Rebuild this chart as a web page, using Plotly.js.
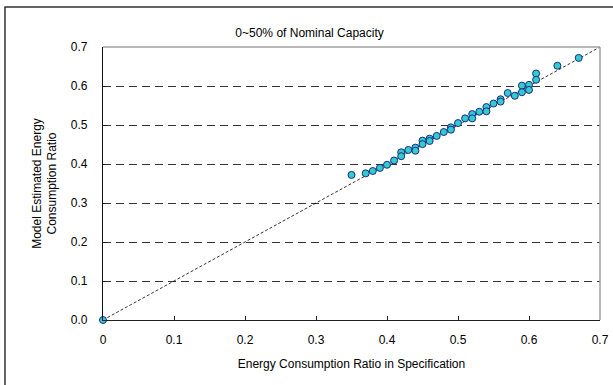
<!DOCTYPE html>
<html>
<head>
<meta charset="utf-8">
<script src="https://cdn.plot.ly/plotly-3.0.1.min.js"></script>
<style>html,body{margin:0;padding:0;background:#fff;}#chart{width:613px;height:385px;}</style>
</head>
<body>
<div id="chart"></div>
<script>
// Energy Consumption Ratio in Specification (x) vs Model Estimated (y)
const specRatio = [0, 0.35, 0.37, 0.38, 0.39, 0.40, 0.41, 0.42, 0.42, 0.43, 0.44, 0.44, 0.45, 0.45, 0.46, 0.46, 0.47, 0.48, 0.49, 0.49, 0.50, 0.51, 0.52, 0.52, 0.53, 0.54, 0.54, 0.55, 0.56, 0.56, 0.57, 0.58, 0.59, 0.59, 0.60, 0.60, 0.61, 0.61, 0.64, 0.67];
const modelRatio = [0, 0.372, 0.376, 0.382, 0.390, 0.398, 0.409, 0.430, 0.420, 0.436, 0.442, 0.434, 0.460, 0.451, 0.465, 0.459, 0.472, 0.482, 0.494, 0.488, 0.505, 0.517, 0.528, 0.517, 0.534, 0.546, 0.535, 0.555, 0.566, 0.560, 0.582, 0.575, 0.601, 0.584, 0.603, 0.590, 0.632, 0.616, 0.652, 0.672];
const refLineX = [0, 0.7];
const refLineY = [0, 0.7];
const xTicks = [0, 0.1, 0.2, 0.3, 0.4, 0.5, 0.6, 0.7];
const yTicks = [0, 0.1, 0.2, 0.3, 0.4, 0.5, 0.6, 0.7];

const font = {family: 'Liberation Sans, Arial, sans-serif', size: 12, color: '#000'};

const traces = [
  {x: refLineX, y: refLineY, mode: 'lines', type: 'scatter',
   line: {color: '#000', width: 0.8, dash: '3px,2px'}, hoverinfo: 'skip', cliponaxis: false},
  {x: specRatio, y: modelRatio, mode: 'markers', type: 'scatter', cliponaxis: false,
   marker: {size: 7, color: '#33cccc', line: {color: '#1a2a8a', width: 1}}}
];

const layout = {
  width: 613, height: 385,
  margin: {l: 103, r: 13, t: 47, b: 65},
  paper_bgcolor: '#fff', plot_bgcolor: '#fff',
  showlegend: false,
  font: font,
  title: {text: '0~50% of Nominal Capacity', font: font, xref: 'container', yref: 'container', x: 0.505, y: 0.914, xanchor: 'center', yanchor: 'middle'},
  xaxis: {
    range: [0, 0.7], tickvals: xTicks, ticktext: xTicks.map(v => v === 0 ? '0' : v.toFixed(1)),
    ticks: 'inside', ticklen: 4, tickcolor: '#222', showgrid: false, zeroline: false,
    showline: true, linecolor: '#222', linewidth: 1.2, ticklabelstandoff: 8,
    title: {text: 'Energy Consumption Ratio in Specification', font: font, standoff: 14}
  },
  yaxis: {
    range: [0, 0.7], tickvals: yTicks, ticktext: yTicks.map(v => v.toFixed(1)),
    ticks: 'inside', ticklen: 4, tickcolor: '#222', showgrid: true, gridcolor: '#333', gridwidth: 1,
    griddash: '8px,5px', zeroline: false,
    showline: true, linecolor: '#111', linewidth: 1.2, ticklabelstandoff: 12,
    title: {text: 'Model Estimated Energy<br>Consumption Ratio', font: font, standoff: 11}
  },
  shapes: [
    {type: 'line', xref: 'paper', yref: 'paper', x0: 0, x1: 1, y0: 1, y1: 1, line: {color: '#a0a0a0', width: 1.5}},
    {type: 'line', xref: 'paper', yref: 'paper', x0: 1, x1: 1, y0: 0, y1: 1, line: {color: '#a0a0a0', width: 1.5}},
    {type: 'rect', xref: 'paper', yref: 'paper', x0: -0.1972, x1: 1.04, y0: -0.264, y1: 1.1465, line: {color: '#333', width: 1.5}, fillcolor: 'rgba(0,0,0,0)', layer: 'below'}
  ]
};

Plotly.newPlot('chart', traces, layout, {displayModeBar: false, staticPlot: true});
</script>
</body>
</html>
